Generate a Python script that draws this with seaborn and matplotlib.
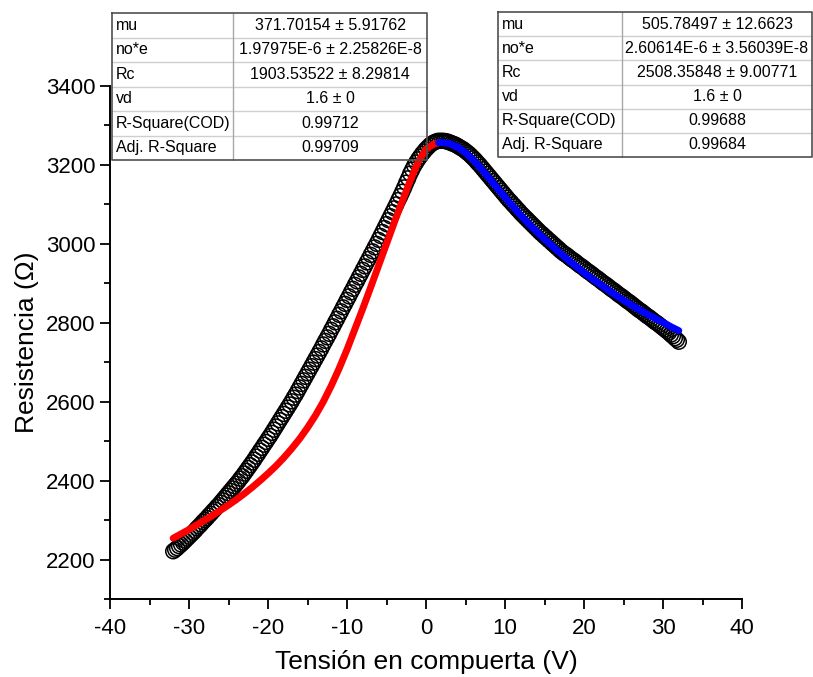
import numpy as np
import pandas as pd
import matplotlib
matplotlib.use("Agg")
import matplotlib.pyplot as plt
from matplotlib.lines import Line2D
from matplotlib.ticker import MultipleLocator
import seaborn as sns

# ---------------- data ----------------
gate_v = np.arange(-32, 32.001, 0.25)
resist = [
    2221, 2225, 2229, 2234,  # -32
    2238, 2243, 2248, 2253,  # -31
    2258, 2263, 2268, 2273,  # -30
    2279, 2284, 2289, 2295,  # -29
    2300, 2305, 2311, 2316,  # -28
    2322, 2327, 2333, 2338,  # -27
    2344, 2350, 2356, 2362,  # -26
    2368, 2374, 2380, 2386,  # -25
    2392, 2398, 2405, 2411,  # -24
    2418, 2425, 2432, 2439,  # -23
    2446, 2453, 2461, 2468,  # -22
    2476, 2483, 2491, 2498,  # -21
    2506, 2513, 2521, 2529,  # -20
    2537, 2545, 2553, 2561,  # -19
    2569, 2577, 2585, 2593,  # -18
    2601, 2610, 2618, 2627,  # -17
    2636, 2645, 2654, 2663,  # -16
    2672, 2681, 2690, 2699,  # -15
    2708, 2717, 2726, 2735,  # -14
    2745, 2754, 2763, 2772,  # -13
    2782, 2791, 2801, 2810,  # -12
    2820, 2829, 2839, 2848,  # -11
    2858, 2867, 2877, 2886,  # -10
    2896, 2905, 2915, 2924,  # -9
    2934, 2943, 2953, 2962,  # -8
    2972, 2981, 2991, 3000,  # -7
    3010, 3020, 3030, 3040,  # -6
    3050, 3060, 3070, 3080,  # -5
    3090, 3100, 3111, 3121,  # -4
    3132, 3143, 3155, 3166,  # -3
    3178, 3188, 3198, 3206,  # -2
    3214, 3221, 3228, 3234,  # -1
    3240, 3245, 3250, 3254,  # 0
    3257, 3259, 3261, 3261,  # 1
    3261, 3261, 3260, 3259,  # 2
    3257, 3255, 3253, 3251,  # 3
    3248, 3245, 3242, 3239,  # 4
    3235, 3231, 3227, 3222,  # 5
    3217, 3212, 3206, 3201,  # 6
    3195, 3189, 3183, 3177,  # 7
    3171, 3165, 3159, 3153,  # 8
    3147, 3141, 3135, 3129,  # 9
    3123, 3117, 3111, 3106,  # 10
    3100, 3095, 3089, 3084,  # 11
    3078, 3073, 3068, 3063,  # 12
    3058, 3053, 3048, 3043,  # 13
    3038, 3033, 3028, 3024,  # 14
    3019, 3015, 3010, 3006,  # 15
    3001, 2997, 2992, 2988,  # 16
    2983, 2979, 2975, 2972,  # 17
    2968, 2964, 2960, 2957,  # 18
    2953, 2949, 2945, 2942,  # 19
    2938, 2934, 2930, 2927,  # 20
    2923, 2919, 2915, 2912,  # 21
    2908, 2904, 2900, 2897,  # 22
    2893, 2889, 2885, 2882,  # 23
    2878, 2874, 2870, 2867,  # 24
    2863, 2859, 2855, 2852,  # 25
    2848, 2844, 2840, 2836,  # 26
    2832, 2829, 2825, 2821,  # 27
    2817, 2814, 2810, 2806,  # 28
    2802, 2799, 2795, 2791,  # 29
    2787, 2783, 2779, 2775,  # 30
    2770, 2766, 2761, 2757,  # 31
    2752,                    # 32
]
assert len(resist) == len(gate_v)

fit_left_x = list(range(-32, 2)) + [1.6]
fit_left_y = [2254, 2265, 2276, 2288, 2300, 2312, 2325, 2338, 2352, 2367,
              2383, 2400, 2418, 2437, 2458, 2481, 2506, 2534, 2565, 2600,
              2640, 2684, 2732, 2784, 2836, 2890, 2945, 3000, 3055, 3108,
              3160, 3207, 3240, 3253, 3256]
fit_right_x = [1.6] + list(range(2, 33))
fit_right_y = [3256, 3257, 3254, 3245, 3231, 3212, 3190, 3166, 3142, 3118,
               3095, 3072, 3051, 3031, 3012, 2994, 2976, 2959, 2943, 2927,
               2912, 2898, 2884, 2870, 2857, 2845, 2833, 2822, 2811, 2801,
               2790, 2780]

param_names = ["mu", "no*e", "Rc", "vd", "R-Square(COD)", "Adj. R-Square"]
left_values = ["371.70154 ± 5.91762", "1.97975E-6 ± 2.25826E-8",
               "1903.53522 ± 8.29814", "1.6 ± 0", "0.99712", "0.99709"]
right_values = ["505.78497 ± 12.6623", "2.60614E-6 ± 3.56039E-8",
                "2508.35848 ± 9.00771", "1.6 ± 0", "0.99688", "0.99684"]

x_label = "Tensión en compuerta (V)"
y_label = "Resistencia (Ω)"

# ---------------- style ----------------
sns.set_theme(style="ticks")
plt.rcParams["font.family"] = ["Liberation Sans", "DejaVu Sans"]
plt.rcParams["axes.unicode_minus"] = False

W, H = 813, 677
fig = plt.figure(figsize=(W / 100, H / 100), dpi=100)
ax = fig.add_axes([110 / W, 1 - 599 / H, 632 / W, (599 - 86) / H])

df = pd.DataFrame({"v": gate_v, "r": resist})
sns.scatterplot(data=df, x="v", y="r", ax=ax, marker="o", s=115,
                facecolor="none", edgecolor="black", linewidth=1.1,
                legend=False, zorder=2)
sns.lineplot(x=fit_left_x, y=fit_left_y, ax=ax, color="#ff0000",
             linewidth=5.0, solid_capstyle="round", zorder=3)
sns.lineplot(x=fit_right_x, y=fit_right_y, ax=ax, color="#0000ff",
             linewidth=5.0, solid_capstyle="round", zorder=3)

ax.set_xlim(-40, 40)
ax.xaxis.set_major_locator(MultipleLocator(10))
ax.xaxis.set_minor_locator(MultipleLocator(5))
ax.yaxis.set_major_locator(MultipleLocator(200))
ax.yaxis.set_minor_locator(MultipleLocator(100))
ax.set_yticks([2200, 2400, 2600, 2800, 3000, 3200, 3400])
ax.set_ylim(2100, 3400)

for s in ["top", "right"]:
    ax.spines[s].set_visible(False)
for s in ["left", "bottom"]:
    ax.spines[s].set_linewidth(1.4)
    ax.spines[s].set_color("black")

ax.tick_params(axis="both", which="major", direction="out", length=7.5,
               width=1.3, labelsize=16, colors="black")
ax.tick_params(axis="both", which="minor", direction="out", length=4,
               width=1.3, colors="black")
ax.tick_params(axis="x", which="major", pad=6)
ax.tick_params(axis="y", which="major", pad=3)

ax.set_xlabel(x_label, fontsize=19, color="black")
ax.set_ylabel(y_label, fontsize=19, color="black")
ax.xaxis.set_label_coords((426 - 110) / 632, (599 - 662) / 513)
ax.yaxis.set_label_coords((27 - 110) / 632, 0.5)
ax.yaxis.label.set_va("center")
ax.xaxis.label.set_va("center")


# ---------------- tables ----------------
def px(x, y):
    return x / W, 1 - y / H


def draw_table(x0, y0, x1, y1, xdiv, names, values):
    n = len(names)
    rh = (y1 - y0) / n
    for i in range(1, n):
        yy = y0 + i * rh
        fig.add_artist(Line2D([px(x0, 0)[0], px(x1, 0)[0]],
                              [px(0, yy)[1], px(0, yy)[1]],
                              color="#cfcfcf", lw=1.0))
    fig.add_artist(Line2D([px(xdiv, 0)[0]] * 2, [px(0, y0)[1], px(0, y1)[1]],
                          color="#a8a8a8", lw=1.0))
    xs = [x0, x1, x1, x0, x0]
    ys = [y0, y0, y1, y1, y0]
    fig.add_artist(Line2D([px(v, 0)[0] for v in xs], [px(0, v)[1] for v in ys],
                          color="#505050", lw=1.2))
    for i, (nm, val) in enumerate(zip(names, values)):
        yc = y0 + (i + 0.5) * rh
        fig.text(*px(x0 + 4, yc), nm, ha="left", va="center",
                 fontsize=11.5, color="black")
        fig.text(*px((xdiv + x1) / 2, yc), val, ha="center", va="center",
                 fontsize=11.5, color="black")


draw_table(112, 13, 427, 160, 233, param_names, left_values)
draw_table(498, 12, 812, 157, 622, param_names, right_values)

fig.savefig("out.png", dpi=100, facecolor="white")
